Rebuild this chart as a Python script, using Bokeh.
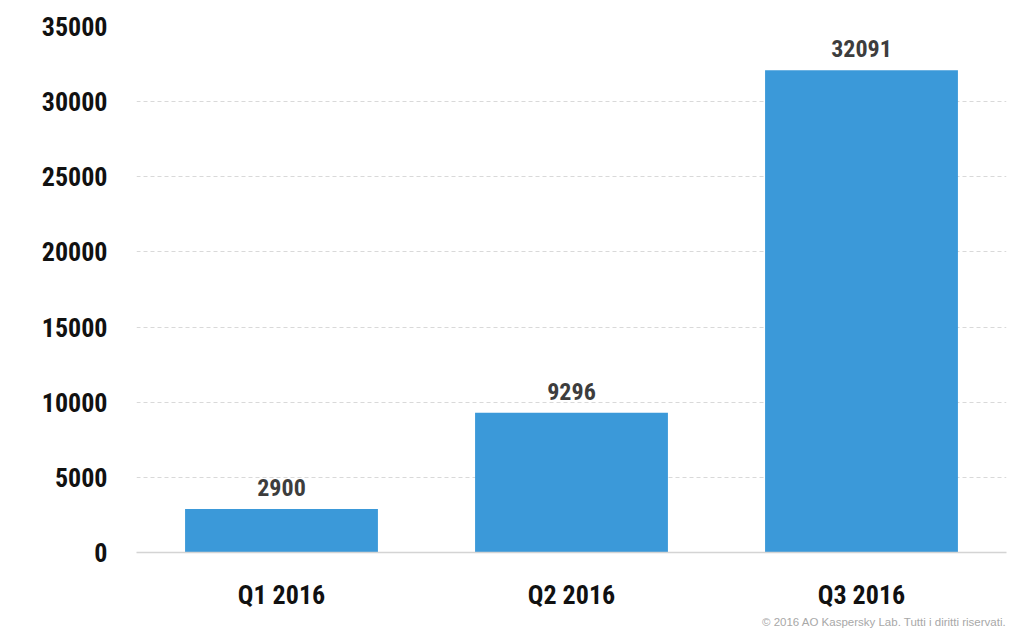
from bokeh.plotting import figure
from bokeh.models import ColumnDataSource, FixedTicker, NumeralTickFormatter, Title
from bokeh.embed import file_html
from bokeh.resources import INLINE
from bokeh.core.properties import value

quarters = ["Q1 2016", "Q2 2016", "Q3 2016"]
counts = [2900, 9296, 32091]
y_ticks = [0, 5000, 10000, 15000, 20000, 25000, 30000, 35000]
credit = "© 2016 AO Kaspersky Lab. Tutti i diritti riservati."

FONT = "Roboto Condensed, Roboto, sans-serif"

src = ColumnDataSource(dict(q=quarters, v=counts, t=[str(c) for c in counts]))

p = figure(x_range=quarters, y_range=(0, 35000), width=1009, height=629,
           output_backend="svg", toolbar_location=None,
           min_border_left=136, min_border_top=26, min_border_right=3, min_border_bottom=20)
p.outline_line_color = None
p.background_fill_color = "white"
p.border_fill_color = "white"

p.vbar(x="q", top="v", width=0.665, source=src, color="#3b99d9", line_color=None)
p.text(x="q", y="v", text="t", source=src, text_align="center", text_baseline="bottom",
       y_offset=-13, text_font=value(FONT), text_font_style="bold", text_font_size="24px",
       text_color="#3d3d3d")

p.yaxis.ticker = FixedTicker(ticks=y_ticks)
p.yaxis.formatter = NumeralTickFormatter(format="0")
p.yaxis.axis_line_color = None
p.yaxis.major_tick_line_color = None
p.yaxis.minor_tick_line_color = None
p.yaxis.major_label_text_font = FONT
p.yaxis.major_label_text_font_style = "bold"
p.yaxis.major_label_text_font_size = "26px"
p.yaxis.major_label_text_color = "#111111"
p.yaxis.major_label_standoff = 23

p.xaxis.axis_line_color = "#d4d4d4"
p.xaxis.axis_line_width = 1.5
p.xaxis.major_tick_line_color = None
p.xaxis.minor_tick_line_color = None
p.xaxis.major_label_text_font = FONT
p.xaxis.major_label_text_font_style = "bold"
p.xaxis.major_label_text_font_size = "26px"
p.xaxis.major_label_text_color = "#111111"
p.xaxis.major_label_standoff = 21

p.xgrid.grid_line_color = None
p.ygrid.grid_line_color = "#d9d9d9"
p.ygrid.grid_line_dash = "4 3"

t = Title(text=credit, align="right", text_font_size="11.5px", text_font="Liberation Sans",
          text_font_style="normal", text_color="#a8a8a8", standoff=3)
p.add_layout(t, "below")

open("out.html", "w").write(file_html(p, INLINE))
